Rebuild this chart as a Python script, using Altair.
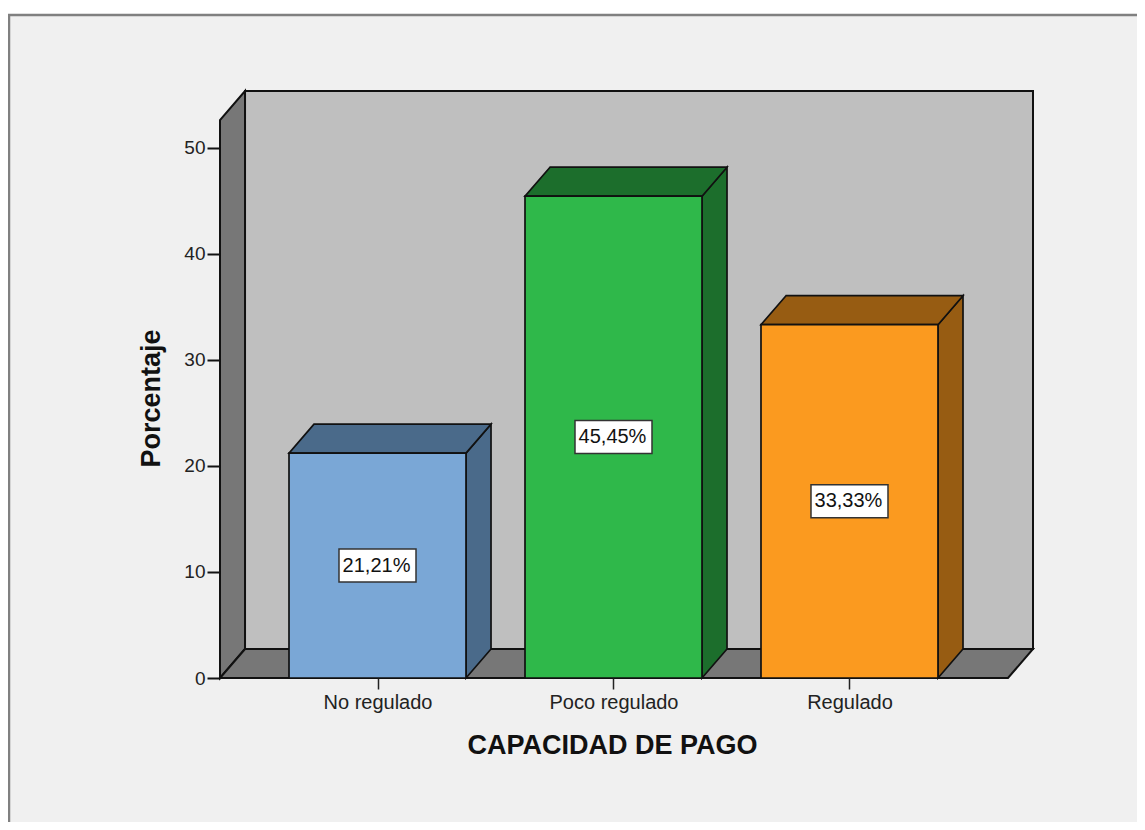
import altair as alt
import pandas as pd

categories = ["No regulado", "Poco regulado", "Regulado"]
values = [21.21, 45.45, 33.33]
labels = ["21,21%", "45,45%", "33,33%"]
positions = [1.0, 2.0, 3.0]
front_colors = ["#7aa7d6", "#2fb84a", "#fb9a1f"]
side_colors = ["#4a6a8a", "#1c6e2c", "#975c12"]

half_bar = 0.375
depth_x = 0.106
depth_y = 2.736
wall_front_top = 52.64
x_min = 0.3326
x_front_max = 3.6716
x_max = x_front_max + depth_x
y_max = wall_front_top + depth_y

W, H = 813, 587
PAD_L, PAD_T = 212, 83
PAD_R, PAD_B = 104, 144

font = "Liberation Sans"
x_scale = alt.Scale(domain=[x_min, x_max], nice=False, zero=False)
y_scale = alt.Scale(domain=[0, y_max], nice=False, zero=False)
label_expr = "{1:'No regulado',2:'Poco regulado',3:'Regulado'}[datum.value]"

x_axis = alt.Axis(values=positions, labelExpr=label_expr, title="CAPACIDAD DE PAGO",
                  titleFont=font, titleFontSize=27, titleFontWeight="bold", titleColor="#111111",
                  titleX=392, titleY=54, labelFont=font, labelFontSize=20, labelColor="#222222",
                  labelPadding=3, tickColor="#222222", tickSize=11, tickWidth=1.5,
                  grid=False, domain=False, labelFlush=False, labelOverlap=False, zindex=1)
y_axis = alt.Axis(values=[0, 10, 20, 30, 40, 50], title="Porcentaje",
                  titleFont=font, titleFontSize=27, titleFontWeight="bold", titleColor="#111111",
                  titleX=-55, titleY=307, labelFont=font, labelFontSize=19, labelColor="#222222",
                  labelPadding=2, tickColor="#111111", tickSize=13, tickWidth=2,
                  grid=False, domain=False, zindex=1)


def X(f="x", stack=False):
    if stack:
        return alt.X(f"{f}:Q", scale=x_scale, axis=x_axis, stack=None)
    return alt.X(f"{f}:Q", scale=x_scale, axis=x_axis)


def Y(f="y", stack=False):
    if stack:
        return alt.Y(f"{f}:Q", scale=y_scale, axis=y_axis, stack=None)
    return alt.Y(f"{f}:Q", scale=y_scale, axis=y_axis)


frame = alt.Chart(pd.DataFrame({"a": [0]})).mark_rect(
    fill="#f0f0f0", stroke="#808080", strokeWidth=2.5, clip=False
).encode(x=alt.value(-PAD_L + 1), x2=alt.value(W + PAD_R + 20),
         y=alt.value(-PAD_T + 7), y2=alt.value(H + PAD_B + 20))

wall = alt.Chart(pd.DataFrame({"x": [x_min + depth_x], "x2": [x_max], "y": [depth_y], "y2": [y_max]})).mark_rect(
    fill="#bfbfbf", stroke="#111111", strokeWidth=2
).encode(x=X(), x2="x2:Q", y=Y(), y2="y2:Q")

left_wall = alt.Chart(pd.DataFrame({
    "x": [x_min, x_min + depth_x], "y": [0, depth_y], "y2": [wall_front_top, y_max]
})).mark_area(fill="#777777", stroke="#111111", strokeWidth=2).encode(
    x=X(), y=Y(stack=True), y2="y2:Q")

floor = alt.Chart(pd.DataFrame({
    "y": [0, depth_y], "x": [x_min, x_min + depth_x], "x2": [x_front_max, x_max]
})).mark_area(orient="horizontal", fill="#777777", stroke="#111111", strokeWidth=2).encode(
    y=Y(), x=X(stack=True), x2="x2:Q")

side_rows, top_rows = [], []
for c, p, v in zip(categories, positions, values):
    r = p + half_bar
    l = p - half_bar
    side_rows += [{"c": c, "x": r, "y": 0, "y2": v},
                  {"c": c, "x": r + depth_x, "y": depth_y, "y2": v + depth_y}]
    top_rows += [{"c": c, "y": v, "x": l, "x2": r},
                 {"c": c, "y": v + depth_y, "x": l + depth_x, "x2": r + depth_x}]

sides = alt.Chart(pd.DataFrame(side_rows)).mark_area(stroke="#111111", strokeWidth=1.7).encode(
    x=X(), y=Y(stack=True), y2="y2:Q",
    fill=alt.Fill("c:N", scale=alt.Scale(domain=categories, range=side_colors), legend=None),
    detail="c:N")

tops = alt.Chart(pd.DataFrame(top_rows)).mark_area(orient="horizontal", stroke="#111111", strokeWidth=1.7).encode(
    y=Y(), x=X(stack=True), x2="x2:Q",
    fill=alt.Fill("c:N", scale=alt.Scale(domain=categories, range=side_colors), legend=None),
    detail="c:N")

bars_df = pd.DataFrame({
    "c": categories, "x": [p - half_bar for p in positions], "x2": [p + half_bar for p in positions],
    "p": positions, "v": values, "zero": [0, 0, 0], "mid": [v / 2 for v in values], "label": labels
})

fronts = alt.Chart(bars_df).mark_rect(stroke="#111111", strokeWidth=1.7).encode(
    x=X(), x2="x2:Q", y=Y("zero"), y2="v:Q",
    fill=alt.Fill("c:N", scale=alt.Scale(domain=categories, range=front_colors), legend=None))

boxes = alt.Chart(bars_df).mark_rect(
    width=77, height=33, fill="#ffffff", stroke="#333333", strokeWidth=1.5
).encode(x=X("p"), y=Y("mid"))

texts = alt.Chart(bars_df).mark_text(font=font, fontSize=20, color="#111111", baseline="middle", align="center", dx=-1).encode(
    x=X("p"), y=Y("mid"), text="label:N")

chart = alt.layer(frame, wall, left_wall, floor, sides, tops, fronts, boxes, texts).resolve_scale(
    fill="independent"
).properties(
    width=W, height=H,
    autosize=alt.AutoSizeParams(type="none"),
    padding={"left": PAD_L, "top": PAD_T, "right": PAD_R, "bottom": PAD_B},
    background="#ffffff",
).configure_view(stroke=None)

chart.save("out.html", embed_options={"renderer": "svg", "actions": False})
